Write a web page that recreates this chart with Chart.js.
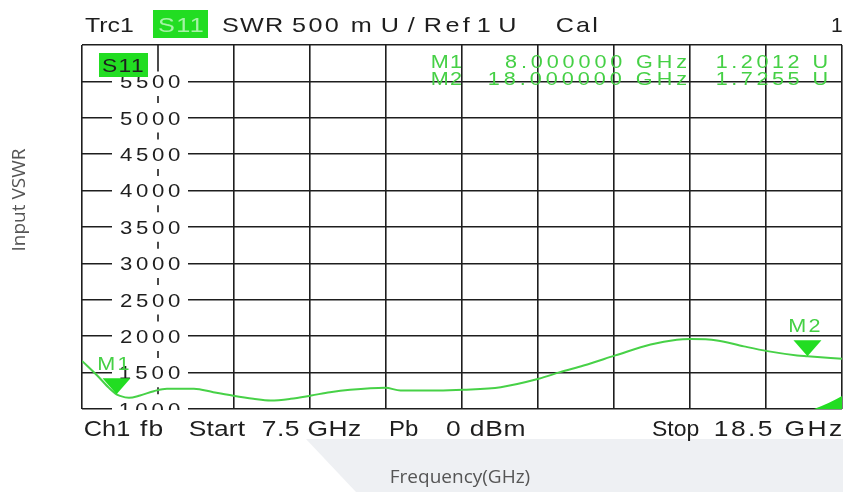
<!DOCTYPE html>
<html>
<head>
<meta charset="utf-8">
<script src="https://cdn.jsdelivr.net/npm/chart.js@4.4.1/dist/chart.umd.min.js"></script>
<style>
  html, body { margin: 0; padding: 0; background: #fff; }
  canvas { display: block; }
</style>
</head>
<body>
<canvas id="vswr-chart" width="843" height="492"></canvas>
<script>
// trace (frequency in GHz, SWR in mU)
const freqGHz = [7.5, 7.72, 7.89, 8.0, 8.05, 8.18, 8.34, 8.54, 8.73, 9.12,
  9.4, 9.69, 9.98, 10.23, 10.52, 10.82, 11.09, 11.38, 11.89, 12.11,
  12.64, 13.02, 13.56, 14.11, 14.42, 14.76, 15.22, 15.73, 16.11, 16.31,
  16.69, 17.08, 17.42, 17.85, 18.0, 18.5];
const vswrMU = [1660, 1460, 1290, 1201, 1180, 1154, 1186, 1245, 1278, 1278,
  1231, 1181, 1140, 1117, 1140, 1186, 1231, 1264, 1292, 1254,
  1254, 1264, 1300, 1415, 1506, 1598, 1736, 1887, 1952, 1960,
  1942, 1860, 1795, 1736, 1725, 1690];

const yTickLabels = ["1000", "1500", "2000", "2500", "3000", "3500", "4000", "4500", "5000", "5500"];
const yTickValues = [1000, 1500, 2000, 2500, 3000, 3500, 4000, 4500, 5000, 5500];

const markerNames = ["M1", "M2"];
const markerFreq = [8.0, 18.0];
const markerVswr = [1201.2, 1725.5];

const startGHz = 7.5;
const stopGHz = 18.5;
const xGridGHz = Array.from({ length: 11 }, (_, i) => startGHz + (i * (stopGHz - startGHz)) / 10);

const GREEN = "#22dd22";
const TRACE = "#47d147";
const MARK_TXT = "#45d045";
const INK = "#1e1e1e";
const FONT = "Liberation Sans, Arial, sans-serif";

// draws text so its ink spans x1..x2: a bit wider glyphs plus extra spacing,
// like the analyser's screen font
function fitText(ctx, text, x1, x2, base, size, color) {
  ctx.save();
  ctx.font = `${size}px ${FONT}`;
  ctx.fillStyle = color;
  ctx.textAlign = "left";
  ctx.textBaseline = "alphabetic";
  const m = ctx.measureText(text);
  const inkW = m.actualBoundingBoxLeft + m.actualBoundingBoxRight;
  const n = [...text].length;
  const target = x2 - x1;
  let sx = n > 1 ? Math.min(target / inkW, 1.2) : 1;
  if (n > 1 && "letterSpacing" in ctx) {
    ctx.letterSpacing = ((target - inkW * sx) / (n - 1) / sx).toFixed(2) + "px";
  } else if (n > 1) {
    sx = target / inkW;
  }
  ctx.translate(x1, base);
  ctx.scale(sx, 1);
  ctx.fillText(text, m.actualBoundingBoxLeft, 0);
  ctx.restore();
}

const screenPlugin = {
  id: "screen",
  beforeDraw(chart) {
    const ctx = chart.ctx;
    ctx.save();
    ctx.fillStyle = "#fff";
    ctx.fillRect(0, 0, chart.width, chart.height);
    // grey band behind the x title
    ctx.fillStyle = "#eef0f3";
    ctx.beginPath();
    ctx.moveTo(306, 439);
    ctx.lineTo(843, 439);
    ctx.lineTo(843, 492);
    ctx.lineTo(356, 492);
    ctx.closePath();
    ctx.fill();

    ctx.fillStyle = "#555";
    ctx.font = "19px 'Open Sans', sans-serif";
    ctx.textAlign = "center";
    ctx.textBaseline = "middle";
    ctx.fillText("Frequency(GHz)", 460, 478);
    ctx.translate(20, 200);
    ctx.rotate(-Math.PI / 2);
    ctx.fillText("Input VSWR", 0, 0);
    ctx.restore();
  },

  beforeDatasetsDraw(chart) {
    const ctx = chart.ctx;
    const a = chart.chartArea;
    const xs = chart.scales.x;
    const ys = chart.scales.y;
    const gx = xs.getPixelForValue(xGridGHz[1]);

    ctx.save();
    ctx.beginPath();
    ctx.rect(a.left, a.top, a.right - a.left, a.bottom - a.top + 1);
    ctx.clip();

    yTickValues.forEach((v, i) => {
      const y = ys.getPixelForValue(v);
      ctx.fillStyle = "#fff";
      ctx.fillRect(gx - 46, y - 8, 76, 16);
      fitText(ctx, yTickLabels[i], gx - 38, gx + 22, y + 6.7, 18.5, INK);
    });

    // dashed label column
    ctx.strokeStyle = INK;
    ctx.lineWidth = 1.6;
    ctx.beginPath();
    ctx.moveTo(gx, a.top);
    ctx.lineTo(gx, ys.getPixelForValue(5500) - 10);
    for (let i = 0; i < yTickValues.length - 1; i++) {
      const ym = ys.getPixelForValue((yTickValues[i] + yTickValues[i + 1]) / 2);
      ctx.moveTo(gx, ym - 3.5);
      ctx.lineTo(gx, ym + 3.5);
    }
    ctx.stroke();
    ctx.restore();
  },

  afterDatasetsDraw(chart) {
    const ctx = chart.ctx;
    const a = chart.chartArea;
    const xs = chart.scales.x;
    const ys = chart.scales.y;

    // markers
    markerNames.forEach((name, i) => {
      const px = xs.getPixelForValue(markerFreq[i]);
      const py = ys.getPixelForValue(markerVswr[i]);
      ctx.fillStyle = GREEN;
      ctx.beginPath();
      ctx.moveTo(px, py);
      ctx.lineTo(px - 14, py - 16);
      ctx.lineTo(px + 14, py - 16);
      ctx.closePath();
      ctx.fill();
      fitText(ctx, name, px - 18, px + 13, py - 24, 18, MARK_TXT);
    });

    // off-screen marker wedge, bottom right
    ctx.fillStyle = GREEN;
    ctx.beginPath();
    ctx.moveTo(a.right - 28, a.bottom);
    ctx.quadraticCurveTo(a.right - 12, a.bottom - 6, a.right, a.bottom - 13);
    ctx.lineTo(a.right, a.bottom);
    ctx.closePath();
    ctx.fill();

    // marker table
    const rows = markerNames.map((name, i) => [
      name,
      `${markerFreq[i].toFixed(6)} GHz`,
      `${(markerVswr[i] / 1000).toFixed(4)} U`,
    ]);
    const bases = [67.5, 85];
    rows.forEach((r, i) => {
      const fw = i === 0 ? 182 : 198;
      fitText(ctx, r[0], 432, 462, bases[i], 18, MARK_TXT);
      fitText(ctx, r[1], 687 - fw, 687, bases[i], 18, MARK_TXT);
      fitText(ctx, r[2], 717, 827, bases[i], 18, MARK_TXT);
    });

    // trace tag in the plot
    ctx.fillStyle = GREEN;
    ctx.fillRect(99, 53, 49, 24);
    fitText(ctx, "S11", 102, 143, 72, 19, INK);

    // header line
    fitText(ctx, "Trc1", 85, 133, 32, 21, INK);
    ctx.fillStyle = GREEN;
    ctx.fillRect(153, 10, 55, 28);
    fitText(ctx, "S11", 158, 203, 32, 21, "#a6f3a6");
    fitText(ctx, "SWR", 222, 283, 32, 21, INK);
    fitText(ctx, "500", 292, 338, 32, 21, INK);
    fitText(ctx, "mU/", 352, 415, 32, 21, INK);
    fitText(ctx, "Ref", 425, 470, 32, 21, INK);
    fitText(ctx, "1 U", 478, 515, 32, 21, INK);
    fitText(ctx, "Cal", 557, 597, 32, 21, INK);
    fitText(ctx, "1", 832, 840, 32, 21, INK);

    // footer line
    fitText(ctx, "Ch1", 85, 130, 436, 22, INK);
    fitText(ctx, "fb", 140, 163, 436, 22, INK);
    fitText(ctx, "Start", 190, 245, 436, 22, INK);
    fitText(ctx, "7.5 GHz", 263, 360, 436, 22, INK);
    fitText(ctx, "Pb", 390, 418, 436, 22, INK);
    fitText(ctx, "0 dBm", 446, 524, 436, 22, INK);
    fitText(ctx, "Stop", 653, 699, 436, 22, INK);
    fitText(ctx, "18.5 GHz", 715, 841, 436, 22, INK);
  },
};

new Chart(document.getElementById("vswr-chart"), {
  type: "line",
  data: {
    datasets: [
      {
        label: "S11 SWR",
        data: freqGHz.map((f, i) => ({ x: f, y: vswrMU[i] })),
        borderColor: TRACE,
        borderWidth: 2,
        pointRadius: 0,
        fill: false,
        cubicInterpolationMode: "monotone",
      },
    ],
  },
  options: {
    responsive: false,
    animation: false,
    devicePixelRatio: 1,
    layout: { padding: { left: 82, top: 45, right: 1, bottom: 83 } },
    plugins: { legend: { display: false }, tooltip: { enabled: false } },
    scales: {
      x: {
        type: "linear",
        min: startGHz,
        max: stopGHz,
        afterBuildTicks: (s) => {
          s.ticks = xGridGHz.map((v) => ({ value: v }));
        },
        afterFit: (s) => {
          s.height = 0;
        },
        ticks: { display: false },
        border: { display: false },
        grid: {
          color: (c) => (c.index === 1 ? "rgba(0,0,0,0)" : INK),
          lineWidth: 1.6,
          drawTicks: false,
        },
      },
      y: {
        min: 1000,
        max: 6000,
        afterFit: (s) => {
          s.width = 0;
        },
        ticks: { display: false, stepSize: 500 },
        border: { display: false },
        grid: { color: INK, lineWidth: 1.6, drawTicks: false },
      },
    },
  },
  plugins: [screenPlugin],
});
</script>
</body>
</html>
